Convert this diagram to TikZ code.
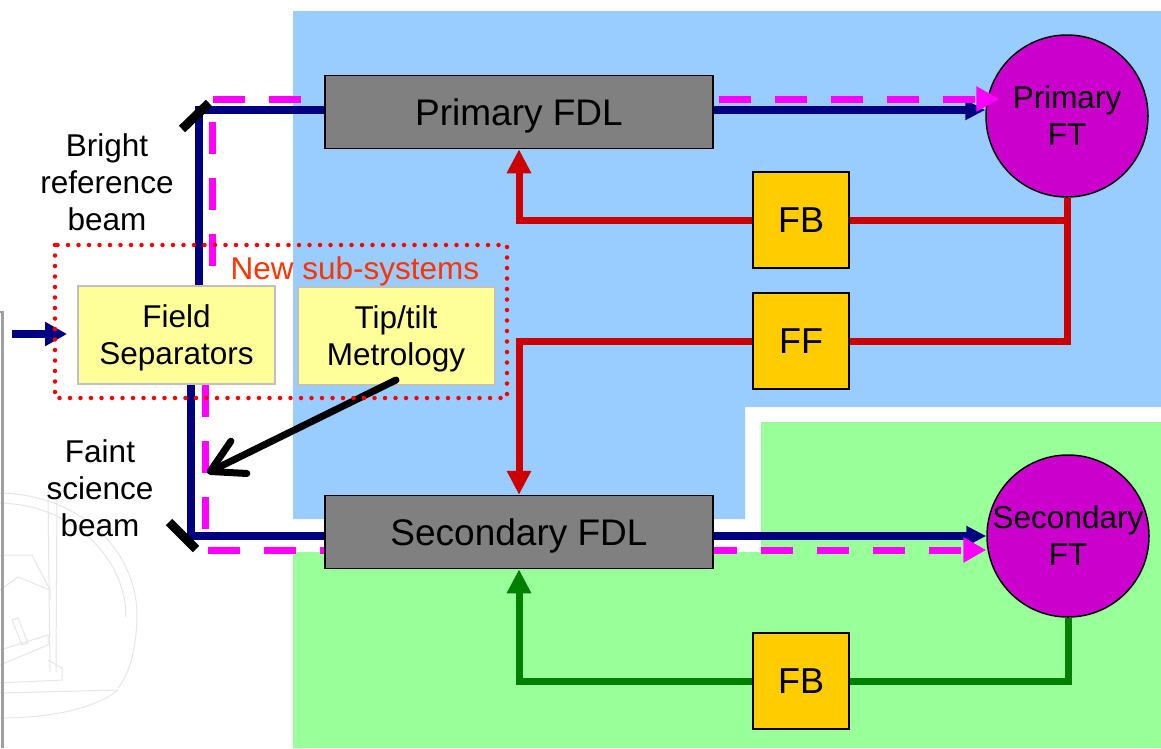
\documentclass[tikz,border=0pt]{standalone}
\usepackage{fontspec}
\setmainfont{Liberation Sans}
\usetikzlibrary{arrows.meta}
\definecolor{bgblue}{HTML}{99CCFF}
\definecolor{bggreen}{HTML}{99FF99}
\definecolor{fdlgray}{HTML}{808080}
\definecolor{fbyellow}{HTML}{FFCC00}
\definecolor{paleyellow}{HTML}{FFFF99}
\definecolor{ftpurple}{HTML}{CC00CC}
\definecolor{navybeam}{HTML}{000080}
\definecolor{magbeam}{HTML}{FF00FF}
\definecolor{redline}{HTML}{CC0000}
\definecolor{greenline}{HTML}{008000}
\definecolor{newred}{HTML}{FF3300}
\definecolor{framegray}{HTML}{A0A0A0}
\definecolor{faintgray}{HTML}{E6E6E6}
\definecolor{subborder}{HTML}{C0C0C0}
\begin{document}
\begin{tikzpicture}[x=1pt,y=-1pt,
  lbl/.style={font=\fontsize{31.5}{37}\selectfont, align=center, inner sep=0pt},
  fdlbox/.style={draw=black, line width=1.5pt, fill=fdlgray, minimum width=388pt, minimum height=73pt, inner sep=0pt, text depth=0pt, font=\fontsize{37}{44}\selectfont},
  ctrlbox/.style={draw=black, line width=1.5pt, fill=fbyellow, minimum width=96pt, minimum height=96pt, inner sep=0pt, font=\fontsize{36}{42}\selectfont},
  subbox/.style={draw=subborder, line width=2pt, fill=paleyellow, minimum width=197pt, minimum height=98pt, inner sep=0pt, text depth=0pt, font=\fontsize{31.5}{37}\selectfont, align=center},
  ftnode/.style={circle, draw=black, line width=1.5pt, fill=ftpurple, minimum size=162pt, inner sep=0pt, text depth=0pt, font=\fontsize{31.5}{37}\selectfont, align=center},
  bluebeam/.style={draw=navybeam, line width=7.5pt},
  magbeamst/.style={draw=magbeam, line width=7pt, dash pattern=on 32pt off 24pt},
  redctrl/.style={draw=redline, line width=7pt},
  greenctrl/.style={draw=greenline, line width=7pt},
  mirrorline/.style={draw=black, line width=9pt},
  faint/.style={draw=faintgray, line width=1pt},
  beamtip/.style={-{Triangle[length=20pt,width=19pt]}},
  magtip/.style={-{Triangle[length=23pt,width=24pt]}},
  ctrltip/.style={-{Triangle[length=24pt,width=23pt]}},
]
\useasboundingbox (0,0) rectangle (1161,748);
\fill[white] (0,0) rectangle (1161,748);
% background regions
\fill[bgblue] (293,11) -- (1161,11) -- (1161,407) -- (745,407) -- (745,519) -- (293,519) -- cycle;
\fill[bggreen] (761,422) -- (1161,422) -- (1161,748) -- (293,748) -- (293,552) -- (761,552) -- cycle;
% faint telescope drawing
\draw[faint] (0,493) .. controls (85,495) and (138,555) .. (137,617) .. controls (136,655) and (128,675) .. (118,688);
\draw[faint] (0,503) .. controls (75,505) and (126,560) .. (126,617);
\draw[faint] (48,490) -- (50,672);
\draw[faint] (57,490) -- (56,672);
\draw[faint] (0,555) -- (32,555) -- (50,590);
\draw[faint] (0,590) -- (18,577) -- (50,590) -- (50,600);
\draw[faint] (0,683) -- (62,680) -- (62,668) -- (48,660);
\draw[faint] (0,693) -- (118,690);
\draw[faint] (0,718) .. controls (60,718) and (100,705) .. (118,690);
\draw[faint] (12,620) -- (22,645) -- (28,643) -- (18,618) -- cycle;
\draw[faint] (0,650) -- (48,635) -- (48,645) -- (0,665);
% frame line of embedded picture
\draw[draw=framegray, line width=2.5pt] (0,312) -- (2.5,312) -- (2.5,748);
% nodes
\node[fdlbox] (pfdl) at (519,112) {Primary FDL};
\node[fdlbox] (sfdl) at (519,532) {Secondary FDL};
\node[ftnode] (pft) at (1067,116) {Primary\\FT};
\node[ftnode] (sft) at (1068,536) {Secondary\\FT};
\node[ctrlbox] (fb1) at (801,220) {FB};
\node[ctrlbox] (ff) at (801,341) {FF};
\node[ctrlbox] (fb2) at (801,681) {FB};
\node[subbox] (fs) at (176.5,335) {Field\\Separators};
\node[subbox] (met) at (396,336) {Tip/tilt\\Metrology};
\node[lbl] (bright) at (107,182) {Bright\\reference\\beam};
\node[lbl] (faintlbl) at (100,488) {Faint\\science\\beam};
\node[lbl, text=newred] (newsub) at (355,271) {New sub-systems};
% beam corner coordinates
\coordinate (mA) at (199,110);
\coordinate (mB) at (212,99);
\coordinate (mC) at (191,536);
\coordinate (mD) at (205,550);
\coordinate (inp) at (12,334);
\coordinate (rx) at (519,0);
\coordinate (tiptarget) at (207,473);
% bright beam
\draw[bluebeam] (fs.north -| mA) -- (mA) -- (mA -| pfdl.west);
\draw[bluebeam, beamtip] (pfdl.east |- mA) -- (pft.west |- mA);
\draw[magbeamst, dash phase=33pt] (mB -| pfdl.west) -- (mB) -- (mB |- fs.north);
\draw[magbeamst, dash phase=51pt, magtip] (pfdl.east |- mB) -- ([xshift=14pt]pft.west |- mB);
% faint beam
\draw[bluebeam] (fs.south -| mC) -- (mC) -- (mC -| sfdl.west);
\draw[bluebeam, beamtip] (sfdl.east |- mC) -- (sft.west |- mC);
\draw[magbeamst] (fs.south -| mD) -- (mD) -- (mD -| sfdl.west);
\draw[magbeamst, dash phase=9pt, magtip] (sfdl.east |- mD) -- (sft.west |- mD);
% input
\draw[bluebeam, -{Triangle[length=22pt,width=23pt]}, shorten >=10pt] (inp) -- (fs.west |- inp);
% red control loops
\draw[redctrl] (pft.south) -- (pft.south |- ff.east) -- (ff.east);
\draw[redctrl] (pft.south |- fb1.east) -- (fb1.east);
\draw[redctrl, ctrltip] (fb1.west) -- (fb1.west -| rx) -- (pfdl.south -| rx);
\draw[redctrl, ctrltip] (ff.west) -- (ff.west -| rx) -- (sfdl.north -| rx);
% green control loop
\draw[greenctrl] (sft.south) -- (sft.south |- fb2.east) -- (fb2.east);
\draw[greenctrl, ctrltip] (fb2.west) -- (fb2.west -| rx) -- (sfdl.south -| rx);
% metrology arrow
\draw[line width=7pt, line cap=round, -{Straight Barb[length=32pt,width=36pt,line cap=round,line join=round]}] ([yshift=6pt]met.south) -- (tiptarget);
% new sub-systems frame
\draw[draw=red, line width=4.5pt, line cap=round, dash pattern=on 0pt off 10.5pt] (55,245) rectangle (507,398);
% mirrors
\draw[mirrorline] (182,129) -- (209,103);
\draw[mirrorline] (169,522) -- (196,549);
\end{tikzpicture}
\end{document}
